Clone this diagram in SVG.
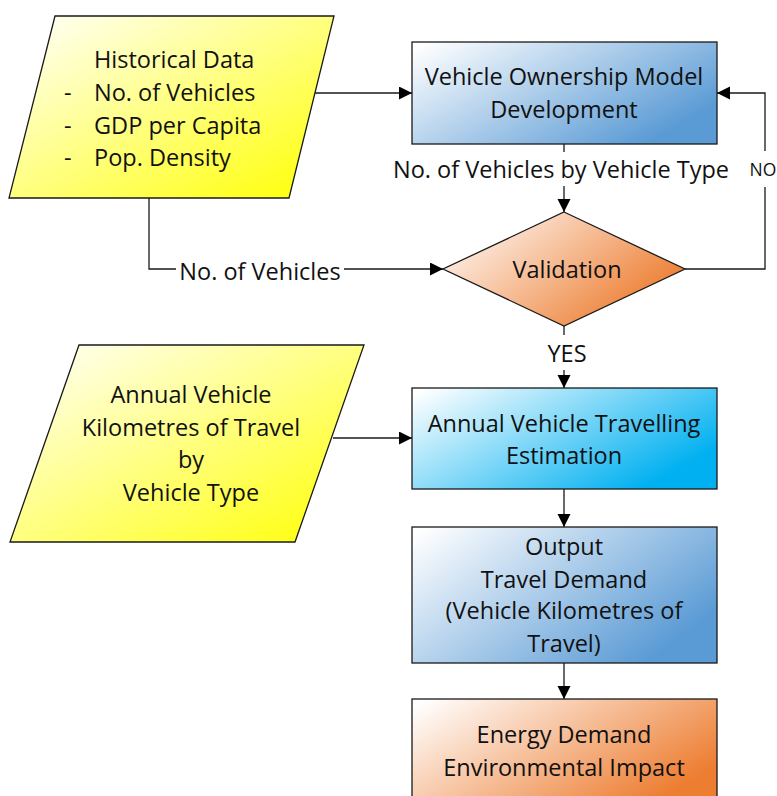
<svg xmlns="http://www.w3.org/2000/svg" width="777" height="796" viewBox="0 0 777 796">
  <style>
    .shape { stroke: #1a1a1a; stroke-width: 1.3; }
    .t { font-family: "Open Sans", Lato, "Liberation Sans", sans-serif; font-size: 23.5px; fill: #111; }
    .c { text-anchor: middle; }
    .small { font-size: 17.5px; }
    .wire { fill: none; stroke: #1a1a1a; stroke-width: 1.3; }
    .bg { fill: #ffffff; }
  </style>
  <defs>
    <linearGradient id="gYellow" x1="0" y1="0" x2="1" y2="1">
      <stop offset="0" stop-color="#ffffff"/>
      <stop offset="1" stop-color="#ffff00"/>
    </linearGradient>
    <linearGradient id="gBlue" x1="0" y1="0" x2="1" y2="0.6">
      <stop offset="0.03" stop-color="#ffffff"/>
      <stop offset="1" stop-color="#5b9bd5"/>
    </linearGradient>
    <linearGradient id="gCyan" x1="0" y1="0" x2="1" y2="0.6">
      <stop offset="0.03" stop-color="#ffffff"/>
      <stop offset="1" stop-color="#00b0f0"/>
    </linearGradient>
    <linearGradient id="gOrange" x1="0" y1="0" x2="1" y2="0.6">
      <stop offset="0.03" stop-color="#ffffff"/>
      <stop offset="1" stop-color="#ed7d31"/>
    </linearGradient>
    <marker id="arrow" markerUnits="userSpaceOnUse" markerWidth="14" markerHeight="14" refX="13" refY="6.5" orient="auto">
      <path d="M0,0 L13,6.5 L0,13 z" fill="#000"/>
    </marker>
  </defs>

  <!-- connectors -->
  <g id="connectors">
    <!-- historical data -> ownership model -->
    <path class="wire" d="M315,93 L412,93" marker-end="url(#arrow)"/>
    <!-- ownership model -> validation -->
    <path class="wire" d="M564,144 L564,212" marker-end="url(#arrow)"/>
    <rect class="bg" x="390" y="152" width="344" height="34"/>
    <text class="t c" x="561" y="178">No. of Vehicles by Vehicle Type</text>
    <!-- historical data -> validation -->
    <path class="wire" d="M149,197 L149,269 L443,269" marker-end="url(#arrow)"/>
    <rect class="bg" x="176" y="256" width="168" height="30"/>
    <text class="t c" x="260" y="280">No. of Vehicles</text>
    <!-- validation NO loop -->
    <path class="wire" d="M685,269 L765,269 L765,93 L717,93" marker-end="url(#arrow)"/>
    <rect class="bg" x="747" y="151" width="30" height="36"/>
    <text class="t c small" x="763" y="176">NO</text>
    <!-- validation YES -->
    <path class="wire" d="M564,326 L564,388" marker-end="url(#arrow)"/>
    <rect class="bg" x="543" y="335" width="48" height="35"/>
    <text class="t c" x="567" y="362">YES</text>
    <!-- annual VKT input -> estimation -->
    <path class="wire" d="M333,438 L412,438" marker-end="url(#arrow)"/>
    <!-- estimation -> output -->
    <path class="wire" d="M564,489 L564,527" marker-end="url(#arrow)"/>
    <!-- output -> energy -->
    <path class="wire" d="M564,663 L564,699" marker-end="url(#arrow)"/>
  </g>

  <!-- nodes -->
  <g id="historical-data">
    <polygon class="shape" points="55,16 334,16 289,198 9,198" fill="url(#gYellow)"/>
    <text class="t" x="94" y="68">Historical Data</text>
    <text class="t" x="64" y="101">-</text>
    <text class="t" x="94" y="101">No. of Vehicles</text>
    <text class="t" x="64" y="134">-</text>
    <text class="t" x="94" y="134">GDP per Capita</text>
    <text class="t" x="64" y="166">-</text>
    <text class="t" x="94" y="166">Pop. Density</text>
  </g>

  <g id="ownership-model">
    <rect class="shape" x="412" y="42" width="305" height="102" fill="url(#gBlue)"/>
    <text class="t c" x="564" y="85">Vehicle Ownership Model</text>
    <text class="t c" x="564" y="118">Development</text>
  </g>

  <g id="validation">
    <polygon class="shape" points="564,212 685,269 564,326 443,269" fill="url(#gOrange)"/>
    <text class="t c" x="567" y="278">Validation</text>
  </g>

  <g id="annual-vkt-input">
    <polygon class="shape" points="79,345 364,345 295,542 10,542" fill="url(#gYellow)"/>
    <text class="t c" x="191" y="403">Annual Vehicle</text>
    <text class="t c" x="191" y="436">Kilometres of Travel</text>
    <text class="t c" x="191" y="468">by</text>
    <text class="t c" x="191" y="501">Vehicle Type</text>
  </g>

  <g id="travelling-estimation">
    <rect class="shape" x="412" y="388" width="305" height="101" fill="url(#gCyan)"/>
    <text class="t c" x="564" y="432">Annual Vehicle Travelling</text>
    <text class="t c" x="564" y="464">Estimation</text>
  </g>

  <g id="travel-demand-output">
    <rect class="shape" x="412" y="527" width="305" height="136" fill="url(#gBlue)"/>
    <text class="t c" x="564" y="555">Output</text>
    <text class="t c" x="564" y="588">Travel Demand</text>
    <text class="t c" x="564" y="619">(Vehicle Kilometres of</text>
    <text class="t c" x="564" y="652">Travel)</text>
  </g>

  <g id="energy-environment">
    <rect class="shape" x="412" y="699" width="305" height="110" fill="url(#gOrange)"/>
    <text class="t c" x="564" y="743">Energy Demand</text>
    <text class="t c" x="564" y="776">Environmental Impact</text>
  </g>
</svg>
